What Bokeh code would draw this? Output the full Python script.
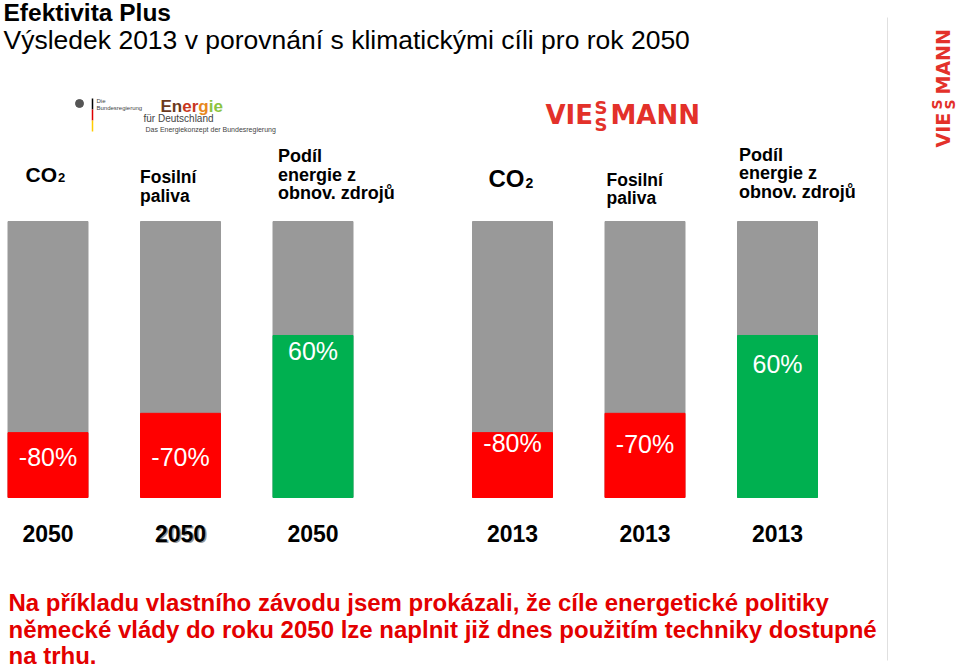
import math
from bokeh.plotting import figure
from bokeh.models import Range1d
from bokeh.embed import file_html
from bokeh.resources import INLINE
from bokeh.core.properties import value

# ---------------- DATA ----------------
periods = ["2050", "2050", "2050", "2013", "2013", "2013"]
indicators = ["CO2", "Fosilní paliva", "Podíl energie z obnov. zdrojů",
              "CO2", "Fosilní paliva", "Podíl energie z obnov. zdrojů"]
bar_labels = ["-80%", "-70%", "60%", "-80%", "-70%", "60%"]
bar_share = [23.5, 30.5, 58.7, 23.5, 30.5, 58.7]      # coloured part (% of bar)
bar_total = [100, 100, 100, 100, 100, 100]
bar_kind = ["reduction", "reduction", "renewable",
            "reduction", "reduction", "renewable"]

title = "Efektivita Plus"
subtitle = "Výsledek 2013 v porovnání s klimatickými cíli pro rok 2050"
header_co2 = ["CO", "2"]
header_fossil = ["Fosilní", "paliva"]
header_share = ["Podíl", "energie z", "obnov. zdrojů"]
footer_lines = [
    "Na příkladu vlastního závodu jsem prokázali, že cíle energetické politiky",
    "německé vlády do roku 2050 lze naplnit již dnes použitím techniky dostupné",
    "na trhu.",
]
logo_name = "VIESSMANN"

# ---------------- LAYOUT / STYLE ----------------
FONT = value("Liberation Sans")
LOGO_FONT = value("DejaVu Sans")
GRAY = "#999999"
KIND_COLOR = {"reduction": "#ff0000", "renewable": "#00b050"}
LOGO_RED = "#e3312a"
FOOT_RED = "#e30000"
BASE_FIX = 0.4          # empirical baseline correction (fraction of font size)

W, H = 960, 668
group_first_x = {"2050": 47.5, "2013": 512.0}
pitch = 132.5
bar_w = 80
bar_x = [group_first_x[g] + (i % 3) * pitch for i, g in enumerate(periods)]

# bar value scale: 0 -> y=497, 100 -> y=221 (px from top)
px_per_unit = 2.76
bar_base = 497
bars_range = Range1d((bar_base - H) / px_per_unit, bar_base / px_per_unit)
label_fs = 25
label_level = [11.2, 10.9, 49.3, 16.3, 15.9, 44.9]   # label baselines, bar units
label_level = [v + BASE_FIX * label_fs / px_per_unit for v in label_level]

p = figure(width=W, height=H, x_range=Range1d(0, W), y_range=Range1d(H, 0),
           output_backend="svg", toolbar_location=None, min_border=0,
           x_axis_location=None, y_axis_location=None)
p.grid.visible = False
p.outline_line_color = None
p.background_fill_color = "white"
p.extra_y_ranges = {"bars": bars_range}

# bars
p.vbar(x=bar_x, bottom=0, top=bar_total, width=bar_w, color=GRAY, y_range_name="bars")
p.vbar(x=bar_x, bottom=0, top=bar_share, width=bar_w,
       color=[KIND_COLOR[k] for k in bar_kind], y_range_name="bars")
p.text(x=bar_x, y=label_level, text=bar_labels, text_align="center",
       text_baseline="alphabetic", text_color="white", text_font=FONT,
       text_font_size=f"{label_fs}px", y_range_name="bars")

# year labels (second one drawn with a faint shadow as in the original)
year_fs = 23
year_y = 542.5 - BASE_FIX * year_fs
p.text(x=[bar_x[1] + 1.5], y=[year_y + 1], text=[periods[1]], text_align="center",
       text_baseline="alphabetic", text_color="#9a9a9a", text_font=FONT,
       text_font_size=f"{year_fs}px", text_font_style="bold")
p.text(x=bar_x, y=[year_y] * 6, text=periods, text_align="center",
       text_baseline="alphabetic", text_color="black", text_font=FONT,
       text_font_size=f"{year_fs}px", text_font_style="bold")

def txt(x, y, s, size, bold=True, color="black", align="left", font=FONT, angle=0):
    if angle:
        x = x - BASE_FIX * size
    else:
        y = y - BASE_FIX * size
    p.text(x=[x], y=[y], text=[s], text_align=align, text_baseline="alphabetic",
           text_color=color, text_font=font, text_font_size=f"{size}px",
           text_font_style="bold" if bold else "normal", angle=angle)

# title
txt(3, 22, title, 24.5)
txt(3, 50, subtitle, 26.5, bold=False)

# headers
for (cx, cy, cs, ss, sx) in [(25, 182.5, 21, 13, 57.5), (488, 188, 24, 14, 525)]:
    txt(cx, cy, header_co2[0], cs)
    txt(sx, cy, header_co2[1], ss)
for (fx, ys) in [(139.5, [183.5, 202]), (606, [186, 204.5])]:
    for line, yy in zip(header_fossil, ys):
        txt(fx, yy, line, 17.5)
for (hx, ys) in [(277.5, [162.5, 181.5, 200]), (738.5, [161.5, 180, 199])]:
    for line, yy in zip(header_share, ys):
        txt(hx, yy, line, 18)

# footer
for line, yy in zip(footer_lines, [612, 638.5, 665]):
    txt(8, yy, line, 24, color=FOOT_RED)

# separator line
p.segment(x0=[887], y0=[17], x1=[887], y1=[660], line_color="#e0e0e0", line_width=1)

# Bundesregierung logo
p.scatter(x=[79], y=[103], size=8, color="#555555")
p.segment(x0=[92, 92, 92], y0=[98, 109, 120], x1=[92, 92, 92], y1=[109, 120, 131],
          line_color=["#000000", "#dd0000", "#ffcc00"], line_width=1.5)
txt(96, 103, "Die", 6, bold=False, color="#444444")
txt(96, 110, "Bundesregierung", 6, bold=False, color="#444444")

# Energie logo
ex = 160
for part, col, w in [("En", "#6b3a1f", 21.7), ("er", "#c8371f", 16.1),
                     ("g", "#e8891d", 10.4), ("ie", "#8cc43f", 14.2)]:
    txt(ex, 113, part, 17, color=col)
    ex += w
txt(143, 122, "für Deutschland", 10, bold=False, color="#444444")
txt(145, 132, "Das Energiekonzept der Bundesregierung", 7, bold=False, color="#444444")

# Viessmann logo (horizontal)
txt(545, 125, logo_name[:3], 26, color=LOGO_RED, font=LOGO_FONT)
txt(594, 114, logo_name[3], 18, color=LOGO_RED, font=LOGO_FONT)
txt(594, 131, logo_name[4], 18, color=LOGO_RED, font=LOGO_FONT)
txt(610, 125, logo_name[5:], 26, color=LOGO_RED, font=LOGO_FONT)

# Viessmann logo (vertical)
A = math.pi / 2
txt(950, 147, logo_name[:3], 19, color=LOGO_RED, font=LOGO_FONT, angle=A)
txt(942, 109, logo_name[3], 14, color=LOGO_RED, font=LOGO_FONT, angle=A)
txt(955, 109, logo_name[4], 14, color=LOGO_RED, font=LOGO_FONT, angle=A)
txt(950, 94, logo_name[5:], 19, color=LOGO_RED, font=LOGO_FONT, angle=A)

open("out.html", "w").write(file_html(p, INLINE))
